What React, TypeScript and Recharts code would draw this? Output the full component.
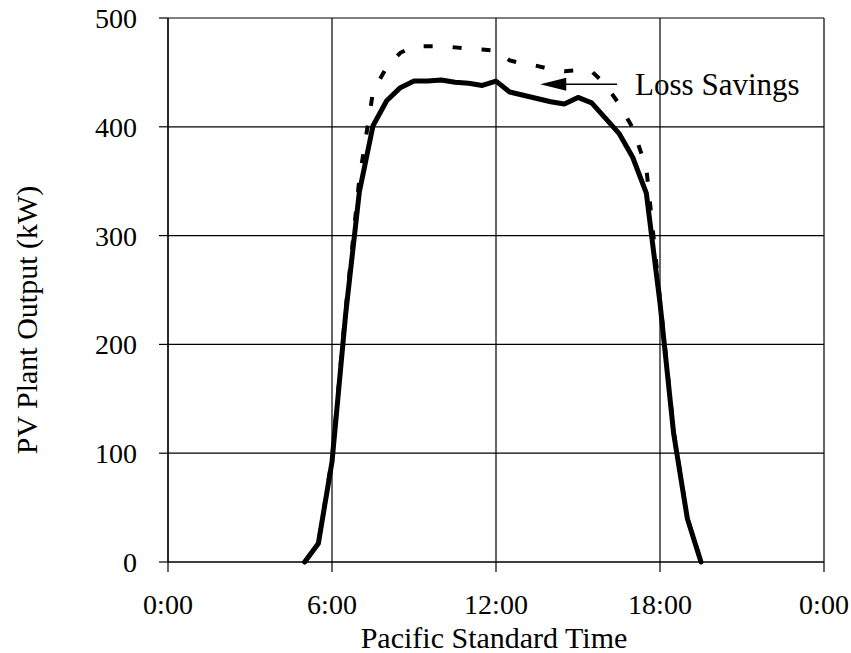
import React from 'react';
import { LineChart, Line, XAxis, YAxis, CartesianGrid, ReferenceLine } from 'recharts';

// half-hour readings, hours since midnight (PST)
const hours = [
  5, 5.5, 6, 6.5, 7, 7.5, 8, 8.5, 9, 9.5, 10, 10.5, 11, 11.5, 12,
  12.5, 13, 13.5, 14, 14.5, 15, 15.5, 16, 16.5, 17, 17.5, 18, 18.5, 19, 19.5,
];

// PV plant output (kW), actual
const outputKw = [
  0, 17, 92, 228, 340, 401, 424, 436, 442, 442, 443, 441, 440, 438, 442,
  432, 429, 426, 423, 421, 427, 422, 408, 394, 372, 339, 238, 118, 40, 0,
];

// output with loss savings (dashed)
const withSavingsKw = [
  0, 17, 95, 232, 352, 432, 455, 468, 474, 474, 474, 473, 472, 471, 470,
  461, 458, 456, 453, 451, 452, 451, 439, 421, 399, 362, 242, 120, 40, 0,
];

const xTicks = [0, 6, 12, 18, 24];
const yTicks = [0, 100, 200, 300, 400, 500];

const annotationText = 'Loss Savings';
const arrowTail = { x: 16.43, y: 439 };
const arrowTip = { x: 13.62, y: 439 };

const FONT = '"Liberation Serif", "Times New Roman", serif';

const data = hours.map((h, i) => ({
  hour: h,
  actual: outputKw[i],
  savings: withSavingsKw[i],
}));

const formatHour = (h: number) => `${h % 24}:00`;

function YTitle(props: any) {
  const { viewBox } = props;
  const cx = viewBox.x + 36.5;
  const cy = viewBox.y + viewBox.height / 2 + 30;
  return (
    <text
      x={cx}
      y={cy}
      transform={`rotate(-90, ${cx}, ${cy})`}
      textAnchor="middle"
      fontFamily={FONT}
      fontSize={30}
      fill="#000"
    >
      PV Plant Output (kW)
    </text>
  );
}

function XTitle(props: any) {
  const { viewBox } = props;
  return (
    <text
      x={viewBox.x + viewBox.width / 2 - 2}
      y={viewBox.y + 86}
      textAnchor="middle"
      fontFamily={FONT}
      fontSize={30}
      fill="#000"
    >
      Pacific Standard Time
    </text>
  );
}

function ArrowNote(props: any) {
  const { x1, y1, x2, y2 } = props;
  const head = 26;
  const half = 6.5;
  return (
    <g>
      <line x1={x1} y1={y1} x2={x2 + head - 2} y2={y2} stroke="#000" strokeWidth={1.5} />
      <polygon
        points={`${x2},${y2} ${x2 + head},${y2 - half} ${x2 + head},${y2 + half}`}
        fill="#000"
      />
      <text x={x1 + 18} y={y1 + 11} fontFamily={FONT} fontSize={31} fill="#000">
        {annotationText}
      </text>
    </g>
  );
}

export default function App() {
  return (
    <div style={{ position: 'absolute', left: 0, top: 0, width: 851, height: 653, background: '#fff' }}>
      <LineChart
        width={851}
        height={653}
        data={data}
        margin={{ top: 18, right: 27, bottom: 0, left: 0 }}
      >
        <CartesianGrid stroke="#000" strokeWidth={1.2} />
        <XAxis
          dataKey="hour"
          type="number"
          domain={[0, 24]}
          ticks={xTicks}
          interval={0}
          tickFormatter={formatHour}
          height={91}
          stroke="#000"
          strokeWidth={1.2}
          tickSize={10}
          tickMargin={22}
          tick={{ fill: '#000', fontSize: 28, fontFamily: FONT }}
          label={<XTitle />}
        />
        <YAxis
          type="number"
          domain={[0, 500]}
          ticks={yTicks}
          interval={0}
          width={168}
          stroke="#000"
          strokeWidth={1.2}
          tickSize={9}
          tickMargin={22}
          tick={{ fill: '#000', fontSize: 28, fontFamily: FONT }}
          label={<YTitle />}
        />
        <Line
          dataKey="savings"
          type="linear"
          stroke="#000"
          strokeWidth={4}
          strokeDasharray="9 20"
          dot={false}
          activeDot={false}
          isAnimationActive={false}
        />
        <Line
          dataKey="actual"
          type="linear"
          stroke="#000"
          strokeWidth={5}
          strokeLinejoin="round"
          strokeLinecap="round"
          dot={false}
          activeDot={false}
          isAnimationActive={false}
        />
        <ReferenceLine
          segment={[arrowTail, arrowTip]}
          shape={<ArrowNote />}
        />
      </LineChart>
    </div>
  );
}
